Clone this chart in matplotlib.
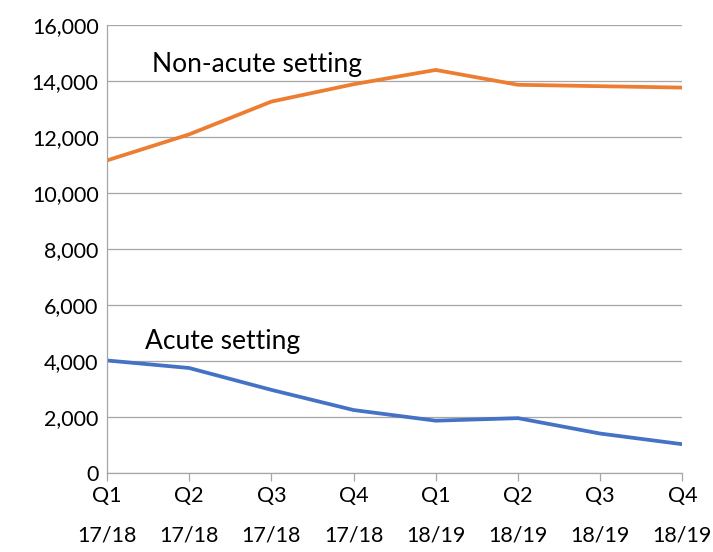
import numpy as np
import matplotlib.pyplot as plt

plt.rcParams['font.family'] = ['Lato', 'DejaVu Sans']

quarters = ["Q1\n17/18", "Q2\n17/18", "Q3\n17/18", "Q4\n17/18",
            "Q1\n18/19", "Q2\n18/19", "Q3\n18/19", "Q4\n18/19"]
non_acute = [11160, 12090, 13260, 13880, 14390, 13860, 13810, 13760]
acute = [4020, 3750, 2970, 2250, 1870, 1960, 1410, 1030]

fig = plt.figure(figsize=(7.13, 5.52), dpi=100)
ax = fig.add_axes([0.150, 0.143, 0.807, 0.812])

x = np.arange(len(quarters))
ax.plot(x, non_acute, color="#ED7D31", linewidth=2.7, solid_capstyle="butt")
ax.plot(x, acute, color="#4472C4", linewidth=2.7, solid_capstyle="butt")

ax.text(0.55, 14600, "Non-acute setting", fontsize=19, va="center", ha="left")
ax.text(0.46, 4700, "Acute setting", fontsize=19, va="center", ha="left")

ax.set_xlim(0, 7)
ax.set_ylim(0, 16000)
ax.set_yticks(np.arange(0, 16001, 2000))
ax.set_yticklabels([f"{v:,}" for v in range(0, 16001, 2000)])
ax.set_xticks(x)
ax.set_xticklabels(quarters, linespacing=2.25)

ax.grid(axis="y", color="#A6A6A6", linewidth=0.9)
ax.set_axisbelow(True)
for s in ["top", "right"]:
    ax.spines[s].set_visible(False)
for s in ["left", "bottom"]:
    ax.spines[s].set_color("#A6A6A6")
    ax.spines[s].set_linewidth(0.9)

ax.tick_params(axis="y", length=0, labelsize=15.5, pad=6)
ax.tick_params(axis="x", length=6, color="#A6A6A6", width=0.9, labelsize=15.5, pad=3)

fig.savefig("out.png", dpi=100)
